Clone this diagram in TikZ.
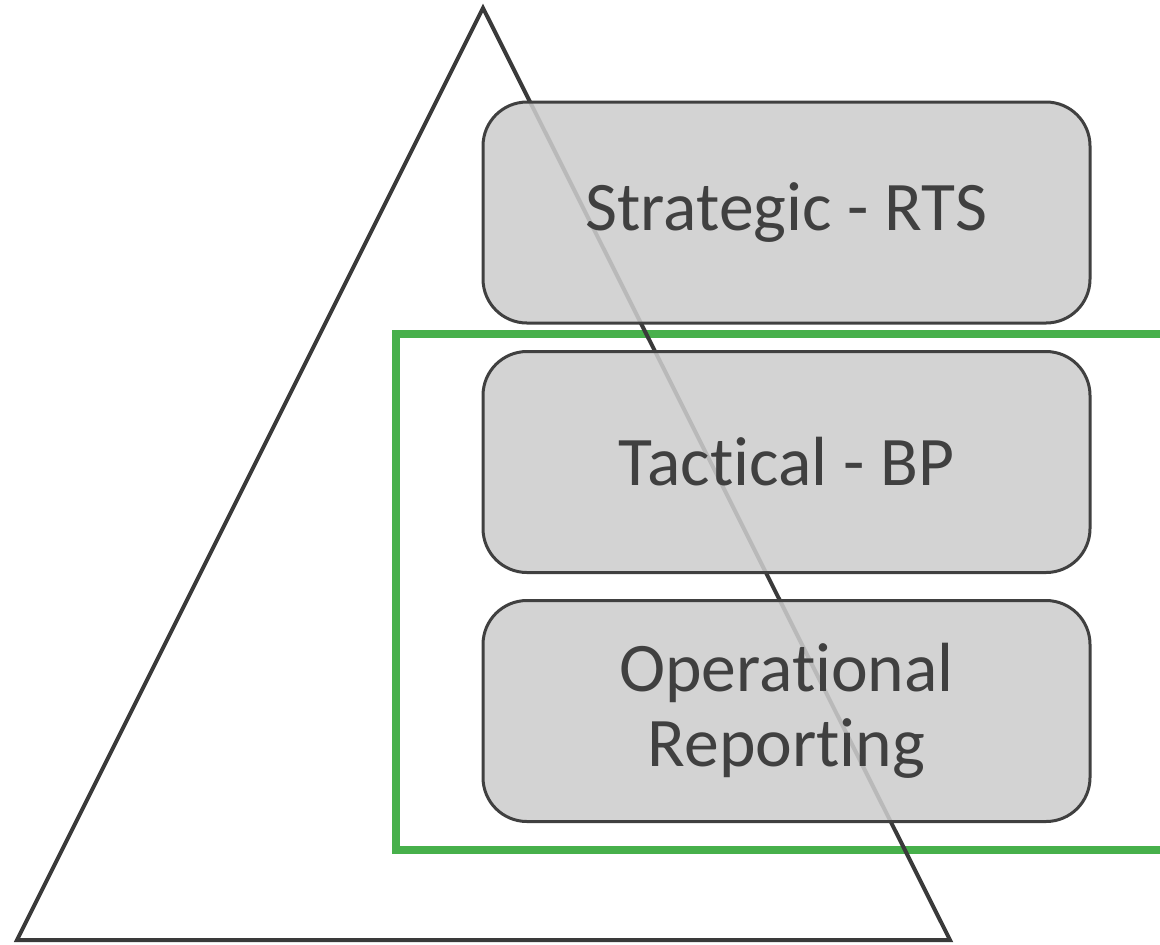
\documentclass[tikz,border=0pt]{standalone}
\usepackage{fontspec}
\setmainfont{Carlito}
\usepackage{tikz}
\definecolor{edgegray}{RGB}{64,64,64}
\definecolor{boxgray}{RGB}{204,204,204}
\definecolor{framegreen}{RGB}{71,176,75}
\newcommand{\nolig}{\kern0pt} % keeps t and i apart

\begin{document}
\begin{tikzpicture}[x=.5pt,y=-.5pt,
  level/.style={draw=edgegray, line width=1.5pt, fill=boxgray, fill opacity=.87, text opacity=1,
    rounded corners=22pt, minimum width=303.5pt, minimum height=110.5pt, align=center,
    text=edgegray, font=\fontsize{34.8pt}{37.5pt}\selectfont}]
\useasboundingbox (0,0) rectangle (1160,944);
\clip (0,0) rectangle (1160,944);

\draw[framegreen, line width=3.75pt] (1200,334) -- (396,334) -- (396,850) -- (1200,850); % frame, open to the right

\coordinate (apex) at (483,8);
\coordinate (left) at (17,940);
\coordinate (right) at (950,940);
\draw[edgegray!90!black, line width=2pt, line join=miter] (apex) -- (left) -- (right) -- cycle; % pyramid

\node[level] (strategic) at (786.5,212.5) {Strategic - RTS};
\node[level] (tactical) at (786.5,462) {Tact\nolig ical - BP};
\node[level] (operational) at (786.5,711) {Operat\nolig ional\\Report\nolig ing};
\end{tikzpicture}
\end{document}
